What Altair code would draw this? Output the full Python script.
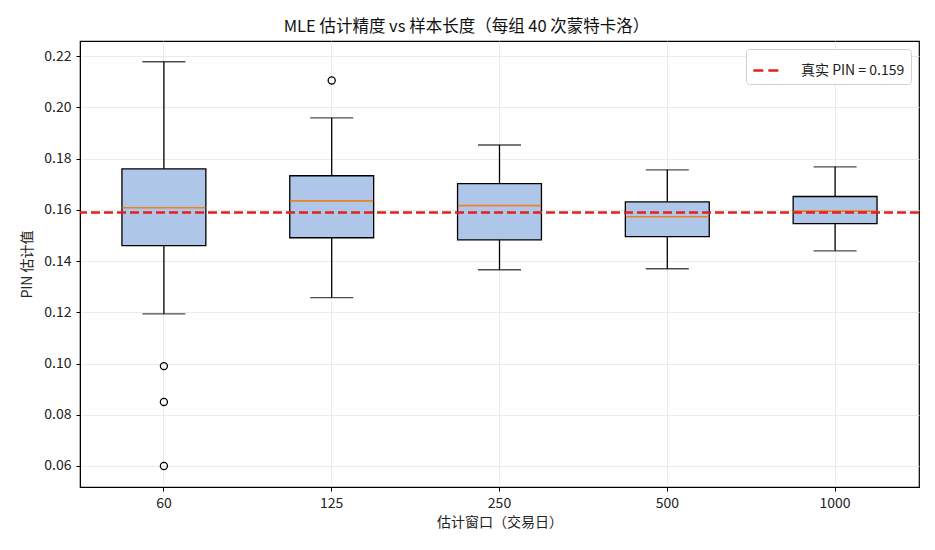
import altair as alt
import pandas as pd

# 每个估计窗口的箱线图统计量
windows = ["60", "125", "250", "500", "1000"]
whisker_lo = [0.1194, 0.1257, 0.1366, 0.1370, 0.1440]
q1 = [0.1460, 0.1491, 0.1483, 0.1495, 0.1546]
median = [0.1608, 0.1635, 0.1616, 0.1573, 0.1595]
q3 = [0.1760, 0.1733, 0.1702, 0.1631, 0.1652]
whisker_hi = [0.2178, 0.1959, 0.1853, 0.1756, 0.1768]

outlier_window = ["60", "60", "60", "125"]
outlier_value = [0.0990, 0.0850, 0.0600, 0.2105]

true_pin = 0.159
y_ticks = [0.06, 0.08, 0.10, 0.12, 0.14, 0.16, 0.18, 0.20, 0.22]

FONT = "Noto Sans CJK SC"

stats = pd.DataFrame({
    "窗口": windows,
    "lo": whisker_lo,
    "q1": q1,
    "med": median,
    "q3": q3,
    "hi": whisker_hi,
})
outliers = pd.DataFrame({"窗口": outlier_window, "值": outlier_value})
ref = pd.DataFrame({"y": [true_pin], "label": [f"真实 PIN = {true_pin}"]})

x_enc = alt.X(
    "窗口:N",
    sort=windows,
    title="估计窗口（交易日）",
    scale=alt.Scale(type="band", paddingInner=0, paddingOuter=0),
    axis=alt.Axis(labelAngle=0, grid=True, bandPosition=0.5, titlePadding=5),
)
y_scale = alt.Scale(domain=[0.0518, 0.2259], nice=False, zero=False)
y_axis = alt.Axis(values=y_ticks, format=".2f", title="PIN 估计值", titlePadding=9)

base = alt.Chart(stats)

whisker = base.mark_rule(color="black", strokeWidth=1.3).encode(
    x=x_enc,
    y=alt.Y("lo:Q", scale=y_scale, axis=y_axis),
    y2="hi:Q",
)

cap_lo = base.mark_tick(color="black", size=43, thickness=1.3).encode(
    x=x_enc, y=alt.Y("lo:Q", scale=y_scale)
)
cap_hi = base.mark_tick(color="black", size=43, thickness=1.3).encode(
    x=x_enc, y=alt.Y("hi:Q", scale=y_scale)
)

box = base.mark_bar(
    width=alt.RelativeBandSize(0.5),
    fill="#aec7e8",
    stroke="black",
    strokeWidth=1.3,
).encode(
    x=x_enc,
    y=alt.Y("q1:Q", scale=y_scale),
    y2="q3:Q",
)

med = base.mark_tick(color="#f07f1e", size=83, thickness=1.7, opacity=1).encode(
    x=x_enc, y=alt.Y("med:Q", scale=y_scale)
)

pts = alt.Chart(outliers).mark_point(
    shape="circle", filled=False, color="black", size=50, strokeWidth=1.3, opacity=1
).encode(
    x=x_enc,
    y=alt.Y("值:Q", scale=y_scale),
)

ref_line = alt.Chart(ref).mark_rule(strokeDash=[9, 4], strokeWidth=2.5).encode(
    y=alt.Y("y:Q", scale=y_scale),
    color=alt.Color(
        "label:N",
        scale=alt.Scale(range=["#e3201f"]),
        legend=alt.Legend(
            title=None,
            orient="top-right",
            symbolType="stroke",
            symbolDash=[10, 5],
            symbolStrokeWidth=2.5,
            symbolSize=800,
            labelFontSize=14,
            labelFont=FONT,
            labelColor="#222",
            labelOffset=18,
            fillColor="white",
            strokeColor="#d0d0d0",
            cornerRadius=3,
            padding=6,
            offset=8,
        ),
    ),
)

chart = (
    alt.layer(whisker, cap_lo, cap_hi, box, med, pts, ref_line)
    .properties(
        width=839,
        height=446,
        autosize=alt.AutoSizeParams(type="none"),
        padding={"left": 72, "top": 33, "right": 8, "bottom": 55},
        title=alt.Title(
            "MLE 估计精度 vs 样本长度（每组 40 次蒙特卡洛）",
            fontSize=16.5,
            font=FONT,
            fontWeight="normal",
            color="#111",
            offset=6,
            dx=-33,
        ),
    )
    .configure_view(stroke="black", strokeWidth=1.2)
    .configure_axis(
        labelFont=FONT,
        titleFont=FONT,
        labelFontSize=14,
        titleFontSize=14,
        titleFontWeight="normal",
        labelColor="#222",
        titleColor="#222",
        gridColor="#e6e6e6",
        gridWidth=0.8,
        domainColor="black",
        tickColor="black",
        tickSize=4,
        labelPadding=5,
    )
)

chart.save("out.html", embed_options={"renderer": "svg", "actions": False})
